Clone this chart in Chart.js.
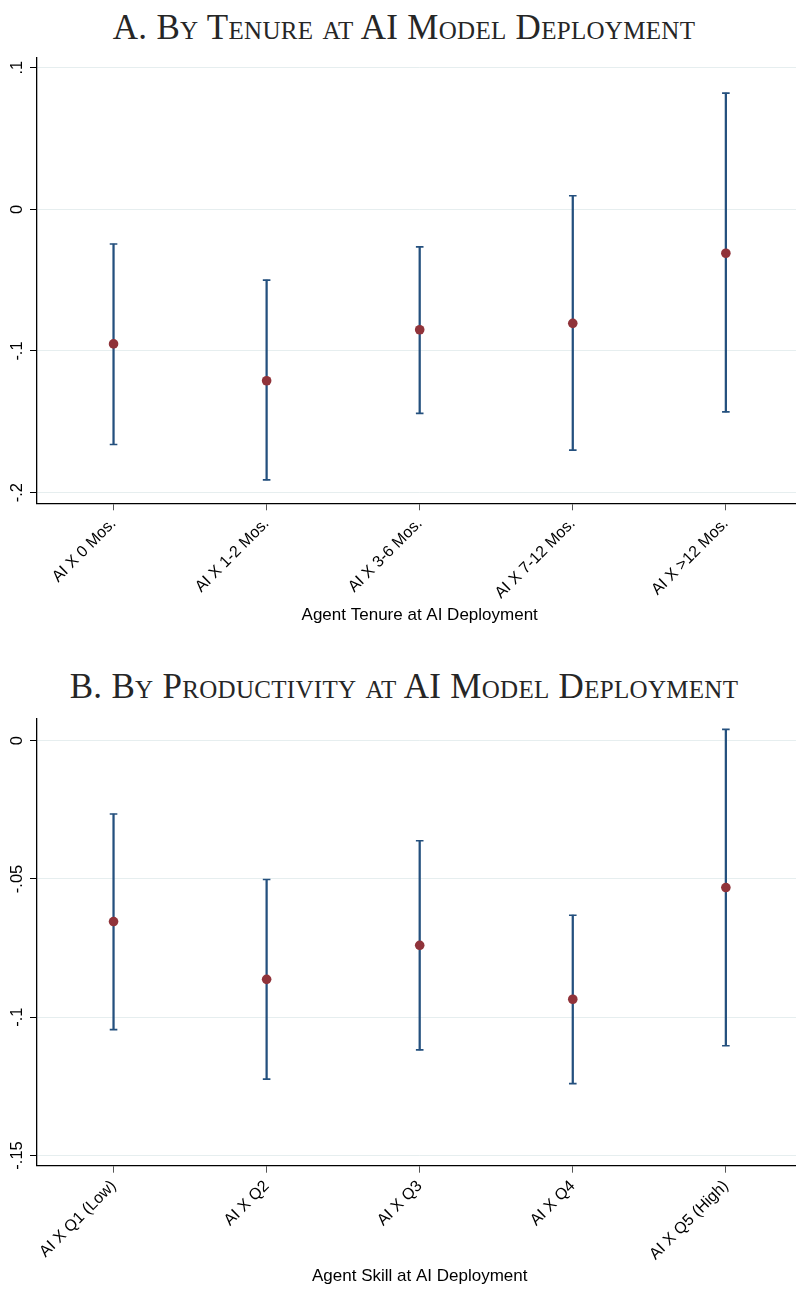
<!DOCTYPE html>
<html>
<head>
<meta charset="utf-8">
<script src="https://cdn.jsdelivr.net/npm/chart.js@4"></script>
<style>
  html, body { margin: 0; padding: 0; background: #fff; width: 796px; height: 1291px; overflow: hidden; }
  .ttl { position: absolute; left: 0; width: 808px; text-align: center; font-family: "Liberation Serif", "DejaVu Serif", serif;
         font-variant: small-caps; font-size: 35px; letter-spacing: 0.3px; color: #262626; white-space: nowrap; line-height: 1; }
  .box { position: absolute; left: 0; width: 808px; }
</style>
</head>
<body>
<div class="ttl" style="top:10px">A. By Tenure at AI Model Deployment</div>
<div class="box" style="top:50px;height:580px"><canvas id="chartA"></canvas></div>
<div class="ttl" style="top:669px">B. By Productivity at AI Model Deployment</div>
<div class="box" style="top:712px;height:579px"><canvas id="chartB"></canvas></div>

<script>
// Panel A: tenure at deployment
const tenureLabels = ['AI X 0 Mos.', 'AI X 1-2 Mos.', 'AI X 3-6 Mos.', 'AI X 7-12 Mos.', 'AI X >12 Mos.'];
const tenureCoef = [-0.095, -0.121, -0.085, -0.0805, -0.031];
const tenureLo   = [-0.166, -0.191, -0.144, -0.170, -0.143];
const tenureHi   = [-0.0245, -0.050, -0.0265, 0.0096, 0.082];
const tenureTicks = [-0.2, -0.1, 0, 0.1];

// Panel B: productivity quintile at deployment
const skillLabels = ['AI X Q1 (Low)', 'AI X Q2', 'AI X Q3', 'AI X Q4', 'AI X Q5 (High)'];
const skillCoef = [-0.0654, -0.0863, -0.074, -0.0935, -0.0531];
const skillLo   = [-0.1045, -0.1224, -0.1118, -0.124, -0.1103];
const skillHi   = [-0.0265, -0.0502, -0.0362, -0.0631, 0.0041];
const skillTicks = [-0.15, -0.1, -0.05, 0];

const NAVY = '#24507e';
const RED = '#90333a';
const SANS = '"Liberation Sans", Arial, Helvetica, sans-serif';

// stata style: ".1", "-.05"
const fmt = v => v === 0 ? '0' : String(v).replace('0.', '.');

// rotated y tick labels (read bottom to top)
const yLabels = {
  id: 'yLabels',
  afterDraw(chart) {
    const s = chart.scales.y, ctx = chart.ctx;
    ctx.save();
    ctx.font = '16.5px ' + SANS;
    ctx.fillStyle = '#000';
    ctx.textAlign = 'center';
    ctx.textBaseline = 'middle';
    for (const t of s.ticks) {
      const y = s.getPixelForValue(t.value);
      ctx.save();
      ctx.translate(s.right - 19.5, y);
      ctx.rotate(-Math.PI / 2);
      ctx.fillText(fmt(t.value), 0, 0);
      ctx.restore();
    }
    ctx.restore();
  }
};

function makeChart(id, labels, coef, lo, hi, ticks, yMin, yMax, xTitle, padTop, xAxisH) {
  const ctx = document.getElementById(id).getContext('2d');
  return new Chart(ctx, {
    type: 'bar',
    data: {
      labels,
      datasets: [
        { type: 'line', data: coef, showLine: false, pointRadius: 4.8, pointBorderWidth: 0,
          pointBackgroundColor: RED, pointBorderColor: RED, order: 0 },
        { type: 'line', data: hi, showLine: false, pointStyle: 'line', pointRadius: 3.8,
          pointBorderWidth: 1.6, pointBorderColor: NAVY, order: 1 },
        { type: 'line', data: lo, showLine: false, pointStyle: 'line', pointRadius: 3.8,
          pointBorderWidth: 1.6, pointBorderColor: NAVY, order: 1 },
        { type: 'bar', data: lo.map((l, i) => [l, hi[i]]), barThickness: 1.6,
          backgroundColor: NAVY, borderWidth: 0, order: 2 }
      ]
    },
    options: {
      responsive: true,
      maintainAspectRatio: false,
      animation: false,
      layout: { padding: { top: padTop, right: 0, left: 0, bottom: 0 } },
      plugins: { legend: { display: false }, tooltip: { enabled: false } },
      scales: {
        x: {
          offset: true,
          grid: { offset: false, drawOnChartArea: false, tickLength: 7, tickColor: '#555', tickWidth: 1 },
          border: { color: '#000', width: 1.3 },
          ticks: { minRotation: 45, maxRotation: 45, color: '#000', padding: 4, font: { family: SANS, size: 16 } },
          title: { display: true, text: xTitle, color: '#000', font: { family: SANS, size: 17 }, padding: { top: 0, bottom: 4 } },
          afterFit(s) { s.height = xAxisH; }
        },
        y: {
          min: yMin, max: yMax,
          afterBuildTicks(s) { s.ticks = ticks.map(v => ({ value: v })); },
          ticks: { display: false },
          grid: { color: '#e6eeef', lineWidth: 1, tickLength: 7, tickColor: '#000' },
          border: { color: '#000', width: 1.3 },
          afterFit(s) { s.width = 37; }
        }
      }
    },
    plugins: [yLabels]
  });
}

makeChart('chartA', tenureLabels, tenureCoef, tenureLo, tenureHi, tenureTicks, -0.2075, 0.1073,
  'Agent Tenure at AI Deployment', 7.3, 126.7);
makeChart('chartB', skillLabels, skillCoef, skillLo, skillHi, skillTicks, -0.1537, 0.00785,
  'Agent Skill at AI Deployment', 7, 125.3);
</script>
</body>
</html>
